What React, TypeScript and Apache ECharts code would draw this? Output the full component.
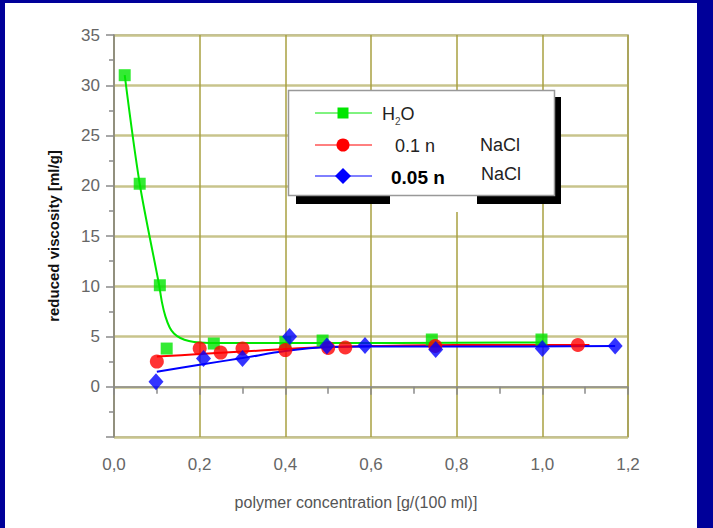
import React, { useEffect, useRef } from "react";
import * as echarts from "echarts";

// H2O data points
const h2oX = [0.025, 0.06, 0.107, 0.123, 0.233, 0.4, 0.487, 0.742, 0.998];
const h2oY = [31.0, 20.2, 10.1, 3.8, 4.3, 4.45, 4.6, 4.7, 4.7];
// H2O fitted curve
const h2oFitX = [0.025, 0.06, 0.105, 0.112, 0.12, 0.13, 0.14, 0.155, 0.175, 0.2, 0.25, 0.4, 1.0];
const h2oFitY = [31.0, 20.2, 10.2, 8.4, 7.0, 5.9, 5.3, 4.85, 4.55, 4.4, 4.35, 4.35, 4.4];

// 0.1 n NaCl points
const redX = [0.1, 0.2, 0.249, 0.3, 0.4, 0.5, 0.54, 0.75, 1.083];
const redY = [2.5, 3.8, 3.4, 3.8, 3.65, 3.85, 3.9, 4.05, 4.15];
const redFitX = [0.1, 0.2, 0.3, 0.4, 0.5, 0.6, 0.8, 1.11];
const redFitY = [3.0, 3.25, 3.5, 3.75, 3.95, 4.05, 4.15, 4.15];

// 0.05 n NaCl points
const blueX = [0.098, 0.209, 0.3, 0.41, 0.497, 0.586, 0.751, 1.0, 1.17];
const blueY = [0.5, 2.8, 2.8, 5.0, 4.05, 4.1, 3.7, 3.8, 4.05];
const blueFitX = [0.1, 0.2, 0.3, 0.4, 0.5, 0.6, 0.8, 1.17];
const blueFitY = [1.5, 2.2, 2.85, 3.55, 3.95, 4.0, 4.0, 4.05];

const xTicks = [0, 0.2, 0.4, 0.6, 0.8, 1.0, 1.2];
const yTickLabels = ["0", "5", "10", "15", "20", "25", "30", "35"];

const seriesNames = ["H2O", "0.1 n NaCl", "0.05 n NaCl"];

const zip = (xs: number[], ys: number[]) => xs.map((x, i) => [x, ys[i]]);

export default function App() {
  const ref = useRef<HTMLDivElement>(null);
  useEffect(() => {
    if (!ref.current) return;
    const chart = echarts.init(ref.current, undefined, { renderer: "svg" });
    const font = "'Liberation Sans', Arial, sans-serif";
    const legendRows = [
      { y: 113, color: "#00e600" },
      { y: 145, color: "#ff0000" },
      { y: 176, color: "#0000ff" },
    ];
    const legendGraphics: any[] = [];
    legendRows.forEach((r) => {
      legendGraphics.push({
        type: "line",
        shape: { x1: 315, y1: r.y, x2: 372, y2: r.y },
        style: { stroke: r.color, lineWidth: 1 },
        z: 102,
      });
    });
    legendGraphics.push(
      { type: "rect", shape: { x: 337.5, y: 107.5, width: 11, height: 11 }, style: { fill: "#00e600" }, z: 103 },
      { type: "circle", shape: { cx: 343, cy: 145, r: 6.5 }, style: { fill: "#ff0000" }, z: 103 },
      {
        type: "polygon",
        shape: { points: [[343, 168], [351, 176], [343, 184], [335, 176]] },
        style: { fill: "#0000ff" },
        z: 103,
      }
    );

    chart.setOption({
      animation: false,
      backgroundColor: "#ffffff",
      grid: {
        left: 114,
        right: 85,
        top: 35,
        bottom: 91,
        show: true,
        borderColor: "#9a9a9a",
        borderWidth: 1.5,
        backgroundColor: "transparent",
      },
      xAxis: {
        type: "value",
        min: 0,
        max: 1.2,
        interval: 0.2,
        name: "polymer concentration [g/(100 ml)]",
        nameLocation: "middle",
        nameGap: 57,
        nameTextStyle: { color: "#555", fontSize: 16, fontFamily: font, padding: [0, 30, 0, 0] },
        axisLine: { lineStyle: { color: "#8a8a8a", width: 1.5 } },
        axisTick: { show: true, length: 8, lineStyle: { color: "#8a8a8a", width: 1.5 } },
        minorTick: { show: true, splitNumber: 2, length: 7, lineStyle: { color: "#8a8a8a", width: 1.5 } },
        axisLabel: {
          color: "#666",
          fontSize: 17,
          fontFamily: font,
          margin: 19,
          formatter: (v: number) => {
            const t = xTicks.find((k) => Math.abs(k - v) < 1e-6);
            return t === undefined ? "" : t.toFixed(1).replace(".", ",");
          },
        },
        splitLine: { show: true, lineStyle: { color: "#a8a040", width: 1.5 } },
      },
      yAxis: {
        type: "value",
        min: -5,
        max: 35,
        interval: 5,
        name: "reduced viscosity [ml/g]",
        nameLocation: "middle",
        nameGap: 53,
        nameTextStyle: { color: "#111", fontSize: 15, fontWeight: "bold", fontFamily: font },
        axisLine: { lineStyle: { color: "#8a8a8a", width: 1.5 } },
        axisTick: { show: true, length: 8, lineStyle: { color: "#8a8a8a", width: 1.5 } },
        minorTick: { show: true, splitNumber: 2, length: 5, lineStyle: { color: "#8a8a8a", width: 1.5 } },
        axisLabel: {
          color: "#666",
          fontSize: 17,
          fontFamily: font,
          margin: 14,
          formatter: (v: number) => {
            const s = String(Math.round(v));
            return yTickLabels.includes(s) ? s : "";
          },
        },
        splitLine: { show: true, lineStyle: { color: "#c8c48c", width: 2.5 } },
      },
      series: [
        {
          name: seriesNames[0] + " fit",
          type: "line",
          data: zip(h2oFitX, h2oFitY),
          showSymbol: false,
          smooth: 0.3,
          lineStyle: { color: "#00e600", width: 2 },
          z: 3,
        },
        {
          name: seriesNames[1] + " fit",
          type: "line",
          data: zip(redFitX, redFitY),
          showSymbol: false,
          smooth: 0.3,
          lineStyle: { color: "#ff0000", width: 2 },
          z: 4,
        },
        {
          name: seriesNames[2] + " fit",
          type: "line",
          data: zip(blueFitX, blueFitY),
          showSymbol: false,
          smooth: 0.3,
          lineStyle: { color: "#0000ff", width: 2 },
          z: 5,
        },
        {
          name: seriesNames[0],
          type: "scatter",
          data: zip(h2oX, h2oY),
          symbol: "rect",
          symbolSize: 12,
          itemStyle: { color: "#00e600" },
          z: 6,
        },
        {
          name: seriesNames[1],
          type: "scatter",
          data: zip(redX, redY),
          symbol: "circle",
          symbolSize: 14,
          itemStyle: { color: "#ff0000" },
          z: 7,
        },
        {
          name: seriesNames[2],
          type: "scatter",
          data: zip(blueX, blueY),
          symbol: "diamond",
          symbolSize: [15, 17],
          itemStyle: { color: "#0000ff" },
          z: 8,
        },
      ],
      graphic: [
        { type: "rect", shape: { x: 0, y: 0, width: 713, height: 3 }, style: { fill: "#000099" }, z: 200 },
        { type: "rect", shape: { x: 0, y: 0, width: 5, height: 528 }, style: { fill: "#000099" }, z: 200 },
        { type: "rect", shape: { x: 697, y: 0, width: 16, height: 528 }, style: { fill: "#000099" }, z: 200 },
        // legend shadow
        { type: "rect", shape: { x: 555, y: 97, width: 6, height: 107 }, style: { fill: "#000" }, z: 100 },
        { type: "rect", shape: { x: 296, y: 196, width: 94, height: 8 }, style: { fill: "#000" }, z: 100 },
        { type: "rect", shape: { x: 477, y: 196, width: 84, height: 8 }, style: { fill: "#000" }, z: 100 },
        { type: "rect", shape: { x: 390, y: 195, width: 87, height: 17 }, style: { fill: "#fff" }, z: 100 },
        // legend box
        {
          type: "rect",
          shape: { x: 288.5, y: 90.5, width: 266, height: 105 },
          style: { fill: "#fff", stroke: "#999", lineWidth: 1.5 },
          z: 101,
        },
        ...legendGraphics,
        {
          type: "text",
          x: 382,
          y: 114,
          style: {
            text: "{a|H}{s|2}{a|O}",
            verticalAlign: "middle",
            rich: {
              a: { fontSize: 18, fontFamily: font, fill: "#222" },
              s: { fontSize: 10, fontFamily: font, fill: "#444", padding: [14, 0, 0, 0] },
            },
          },
          z: 104,
        },
        {
          type: "text",
          x: 395,
          y: 146,
          style: { text: "0.1 n", fontSize: 18, fontFamily: font, fill: "#222", verticalAlign: "middle" },
          z: 104,
        },
        {
          type: "text",
          x: 391,
          y: 177,
          style: { text: "0.05 n", fontSize: 19, fontFamily: font, fill: "#000", verticalAlign: "middle", fontWeight: 600 },
          z: 104,
        },
        {
          type: "text",
          x: 480,
          y: 145,
          style: { text: "NaCl", fontSize: 18, fontFamily: font, fill: "#222", verticalAlign: "middle" },
          z: 104,
        },
        {
          type: "text",
          x: 481,
          y: 174,
          style: { text: "NaCl", fontSize: 18, fontFamily: font, fill: "#222", verticalAlign: "middle" },
          z: 104,
        },
      ],
    });
    return () => chart.dispose();
  }, []);
  return (
    <div
      ref={ref}
      style={{ position: "fixed", left: 0, top: 0, width: 713, height: 528, background: "#fff" }}
    />
  );
}
